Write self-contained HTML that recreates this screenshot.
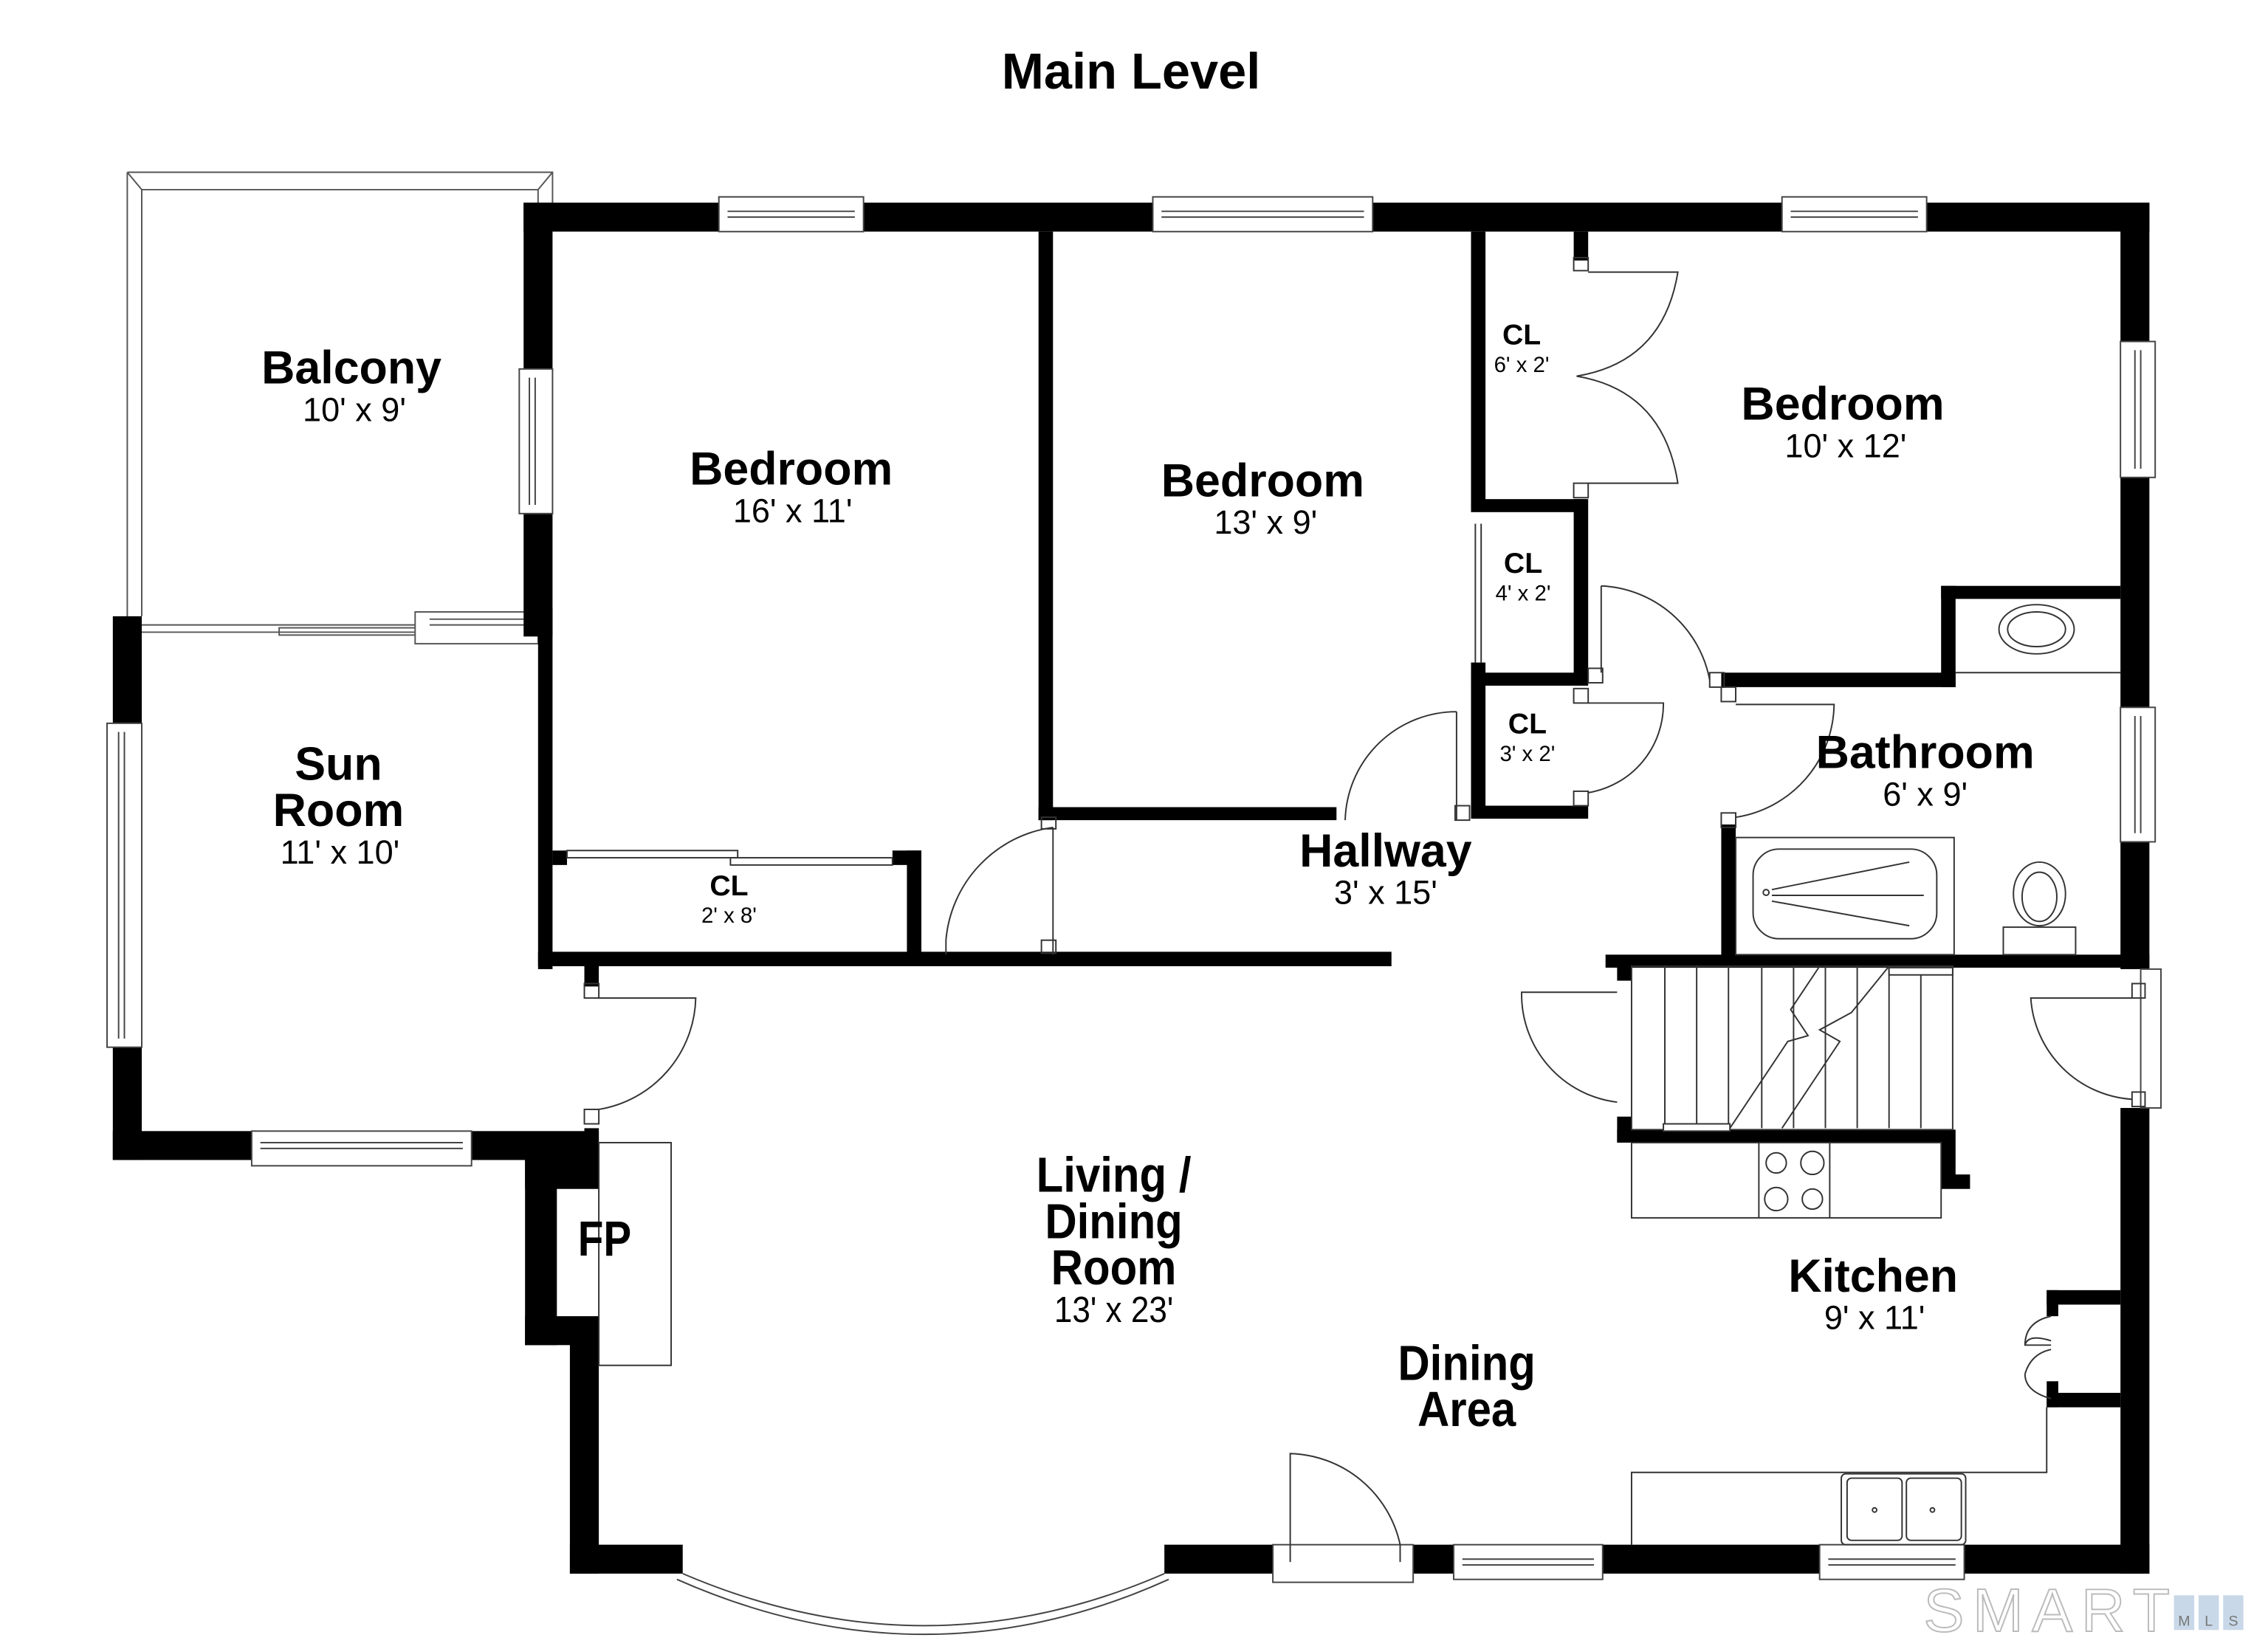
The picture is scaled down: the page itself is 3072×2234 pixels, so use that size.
<!DOCTYPE html>
<html><head><meta charset="utf-8"><style>
html,body{margin:0;padding:0;background:#fff;}
svg{display:block;}
text{font-family:"Liberation Sans",Arial,sans-serif;fill:#000;text-anchor:middle;}
.b{font-weight:bold;font-size:32px;}
.d{font-size:23px;}
.sb{font-weight:bold;font-size:20px;}
.sd{font-size:15px;}
</style></head><body>
<svg width="3072" height="2234" viewBox="0 0 1568 1140" xmlns="http://www.w3.org/2000/svg">
<rect width="1568" height="1140" fill="#fff"/>
<text x="782" y="61" style="font-weight:bold;font-size:35px">Main Level</text>

<!-- Balcony outline -->
<g fill="none" stroke="#555" stroke-width="1">
<path d="M88 119 H382 V140 M88 119 V436 M98 131 H372 V140 M98 131 V426 M88 119 L98 131 M382 119 L372 131"/>
<path d="M98 432 H372 M98 437 H287"/>
<rect x="193" y="434" width="100" height="5"/>
<rect x="287" y="423" width="85" height="22" fill="#fff"/>
<path d="M297 428 H372 M297 432 H372"/>
</g>

<g fill="#000">
<rect x="362" y="140" width="1124" height="20"/>
<rect x="1466" y="140" width="20" height="530"/>
<rect x="1466" y="766" width="20" height="322"/>
<rect x="394" y="1068" width="78" height="20"/>
<rect x="805" y="1068" width="75" height="20"/>
<rect x="977" y="1068" width="509" height="20"/>
<rect x="394" y="920" width="20" height="168"/>
<rect x="404" y="780" width="10" height="30"/>
<rect x="363" y="800" width="51" height="22"/>
<rect x="363" y="800" width="22" height="130"/>
<rect x="363" y="910" width="51" height="20"/>
<rect x="362" y="140" width="20" height="300"/>
<rect x="372" y="420" width="10" height="250"/>
<rect x="372" y="658" width="590" height="10"/>
<rect x="382" y="588" width="10" height="10"/>
<rect x="627" y="588" width="10" height="75"/>
<rect x="617" y="588" width="20" height="10"/>
<rect x="78" y="426" width="20" height="376"/>
<rect x="78" y="782" width="336" height="20"/>
<rect x="404" y="668" width="10" height="14"/>
<rect x="718" y="160" width="10" height="407"/>
<rect x="718" y="558" width="206" height="9"/>
<rect x="1017" y="160" width="10" height="190"/>
<rect x="1017" y="345" width="80" height="9"/>
<rect x="1088" y="345" width="10" height="125"/>
<rect x="1017" y="458" width="10" height="107"/>
<rect x="1017" y="465" width="81" height="9"/>
<rect x="1017" y="557" width="81" height="9"/>
<rect x="1088" y="160" width="10" height="20"/>
<rect x="1190" y="465" width="162" height="10"/>
<rect x="1342" y="405" width="10" height="70"/>
<rect x="1342" y="405" width="124" height="9"/>
<rect x="1190" y="570" width="10" height="95"/>
<rect x="1110" y="660" width="376" height="9"/>
<rect x="1118" y="668" width="10" height="10"/>
<rect x="1118" y="772" width="10" height="18"/>
<rect x="1118" y="781" width="232" height="9"/>
<rect x="1342" y="781" width="10" height="40"/>
<rect x="1342" y="812" width="20" height="10"/>
<rect x="1415" y="892" width="51" height="10"/>
<rect x="1415" y="892" width="8" height="18"/>
<rect x="1415" y="963" width="51" height="10"/>
<rect x="1415" y="955" width="8" height="18"/>
</g>

<g fill="#fff" stroke="#444" stroke-width="1">
<rect x="497" y="136" width="100" height="24"/><path d="M503 146 H591 M503 150 H591" fill="none"/>
<rect x="797" y="136" width="152" height="24"/><path d="M803 146 H943 M803 150 H943" fill="none"/>
<rect x="1232" y="136" width="100" height="24"/><path d="M1238 146 H1326 M1238 150 H1326" fill="none"/>
<rect x="1466" y="236" width="24" height="94"/><path d="M1476 242 V324 M1480 242 V324" fill="none"/>
<rect x="1466" y="489" width="24" height="93"/><path d="M1476 495 V576 M1480 495 V576" fill="none"/>
<rect x="359" y="255" width="23" height="100"/><path d="M366 261 V349 M370 261 V349" fill="none"/>
<rect x="74" y="500" width="24" height="224"/><path d="M82 506 V718 M86 506 V718" fill="none"/>
<rect x="174" y="782" width="152" height="24"/><path d="M180 790 H320 M180 794 H320" fill="none"/>
<rect x="1005" y="1068" width="103" height="24"/><path d="M1011 1078 H1102 M1011 1082 H1102" fill="none"/>
<rect x="1258" y="1068" width="100" height="24"/><path d="M1264 1078 H1352 M1264 1082 H1352" fill="none"/>
<rect x="1480" y="670" width="14" height="96"/>
<rect x="880" y="1068" width="97" height="26"/>
</g>

<g fill="none" stroke="#444" stroke-width="1">
<path d="M472 1088 Q640 1160 805 1088"/>
<path d="M468 1092 Q640 1168 808 1092"/>
</g>

<g fill="none" stroke="#333" stroke-width="1">
<rect x="392" y="588" width="118" height="5"/><rect x="505" y="593" width="112" height="5"/>
<path d="M728 572 V660 M728 572 A86 86 0 0 0 654 650 V660"/>
<rect x="720" y="565" width="10" height="8"/><rect x="720" y="650" width="10" height="9"/>
<path d="M1007 492 V567 M1007 492 A77 77 0 0 0 930 567"/>
<rect x="1006" y="557" width="10" height="10"/>
<path d="M1098 188 H1160 Q1150 250 1090 260 Q1150 270 1160 334 H1098"/>
<rect x="1088" y="178" width="10" height="9"/><rect x="1088" y="334" width="10" height="10"/>
<path d="M1020 362 V458 M1024 362 V458"/>
<path d="M1107 405 V465 M1107 405 A80 80 0 0 1 1182 470"/>
<rect x="1098" y="462" width="10" height="10"/><rect x="1182" y="465" width="10" height="10"/>
<path d="M1098 486 H1150 A62 62 0 0 1 1098 548"/>
<rect x="1088" y="476" width="10" height="10"/><rect x="1088" y="547" width="10" height="10"/>
<path d="M1200 487 H1268 A80 80 0 0 1 1200 565"/>
<rect x="1190" y="475" width="10" height="10"/><rect x="1190" y="562" width="10" height="10"/>
<path d="M414 690 H481 A80 80 0 0 1 414 767"/>
<rect x="404" y="680" width="10" height="10"/><rect x="404" y="767" width="10" height="10"/>
<path d="M892 1068 V1005 A80 80 0 0 1 968 1068"/>
<path d="M892 1068 V1080 M968 1068 V1080"/>
<path d="M1118 686 H1052 A75 75 0 0 0 1118 762"/>
<path d="M1474 690 H1404 A75 75 0 0 0 1474 760"/>
<rect x="1474" y="680" width="9" height="10"/><rect x="1474" y="755" width="9" height="10"/>
<path d="M1418 910 Q1400 914 1400 930 L1418 930 M1400 950 Q1400 962 1418 967"/>
<path d="M1400 930 Q1402 922 1418 927 M1418 933 Q1404 936 1400 950"/>
<rect x="414" y="790" width="50" height="154"/>
<rect x="1128" y="668" width="222" height="113"/>
<path d="M1151 668 V780 M1173 668 V780 M1195 668 V780 M1218 668 V780 M1240 668 V780 M1262 668 V780 M1284 668 V780 M1306 668 V780 M1328 668 V780"/>
<path d="M1196 780 L1236 720 L1250 716 L1238 698 L1258 668"/>
<path d="M1232 780 L1272 720 L1258 712 L1280 700 L1306 668"/>
<rect x="1150" y="777" width="46" height="5" fill="#fff"/>
<rect x="1306" y="669" width="44" height="5" fill="#fff"/>
<rect x="1128" y="790" width="214" height="52"/>
<path d="M1216 790 V842 M1265 790 V842"/>
<circle cx="1228" cy="804" r="7"/><circle cx="1253" cy="804" r="8"/>
<circle cx="1228" cy="829" r="8"/><circle cx="1253" cy="829" r="7"/>
<path d="M1128 1068 V1018 H1415 V973"/>
<rect x="1273" y="1019" width="86" height="49" rx="3"/>
<rect x="1277" y="1022" width="38" height="43" rx="3"/><rect x="1318" y="1022" width="38" height="43" rx="3"/>
<circle cx="1296" cy="1044" r="1.5"/><circle cx="1336" cy="1044" r="1.5"/>
<path d="M1352 465 H1466"/>
<ellipse cx="1408" cy="435" rx="26" ry="17"/><ellipse cx="1408" cy="435" rx="20" ry="12"/>
<rect x="1200" y="579" width="151" height="81"/>
<rect x="1212" y="587" width="127" height="62" rx="18"/>
<path d="M1225 615 L1320 596 M1225 619 H1330 M1225 623 L1320 640"/>
<circle cx="1221" cy="617" r="2"/>
<ellipse cx="1410" cy="618" rx="18" ry="22"/><ellipse cx="1410" cy="620" rx="12" ry="17"/>
<rect x="1385" y="641" width="50" height="19"/>
</g>

<text class="b" x="243" y="265">Balcony</text><text class="d" x="245" y="291">10' x 9'</text>
<text class="b" x="547" y="335">Bedroom</text><text class="d" x="548" y="361">16' x 11'</text>
<text class="b" x="873" y="343">Bedroom</text><text class="d" x="875" y="369">13' x 9'</text>
<text class="b" x="1274" y="290">Bedroom</text><text class="d" x="1276" y="316">10' x 12'</text>
<text class="sb" x="1052" y="238">CL</text><text class="sd" x="1052" y="257">6' x 2'</text>
<text class="sb" x="1053" y="396">CL</text><text class="sd" x="1053" y="415">4' x 2'</text>
<text class="sb" x="1056" y="507">CL</text><text class="sd" x="1056" y="526">3' x 2'</text>
<text class="sb" x="504" y="619">CL</text><text class="sd" x="504" y="638">2' x 8'</text>
<text class="b" x="1331" y="531">Bathroom</text><text class="d" x="1331" y="557">6' x 9'</text>
<text class="b" x="958" y="599">Hallway</text><text class="d" x="958" y="625">3' x 15'</text>
<text class="b" x="234" y="539">Sun</text><text class="b" x="234" y="571">Room</text><text class="d" x="235" y="597">11' x 10'</text>
<g transform="translate(770 0) scale(0.9 1)">
<text class="b" x="0" y="824" style="font-size:34px">Living /</text><text class="b" x="0" y="856" style="font-size:34px">Dining</text><text class="b" x="0" y="888" style="font-size:34px">Room</text><text class="d" x="0" y="914" style="font-size:25px">13' x 23'</text>
</g>
<g transform="translate(418 0) scale(0.85 1)"><text class="b" x="0" y="868" style="font-size:34px">FP</text></g>
<g transform="translate(1014 0) scale(0.9 1)">
<text class="b" x="0" y="954" style="font-size:34px">Dining</text><text class="b" x="0" y="986" style="font-size:34px">Area</text>
</g>
<text class="b" x="1295" y="893">Kitchen</text><text class="d" x="1296" y="919">9' x 11'</text>
<text x="1418" y="1128" style="font-size:42px;fill:none;stroke:#bbb;stroke-width:1;letter-spacing:6px">SMART</text>
<rect x="1503" y="1103" width="14" height="24" fill="#c8d8e8"/><rect x="1520" y="1103" width="14" height="24" fill="#c8d8e8"/><rect x="1537" y="1103" width="14" height="24" fill="#c8d8e8"/>
<text x="1510" y="1124" style="font-size:10px;fill:#777">M</text><text x="1527" y="1124" style="font-size:10px;fill:#777">L</text><text x="1544" y="1124" style="font-size:10px;fill:#777">S</text>
</svg>
</body></html>
